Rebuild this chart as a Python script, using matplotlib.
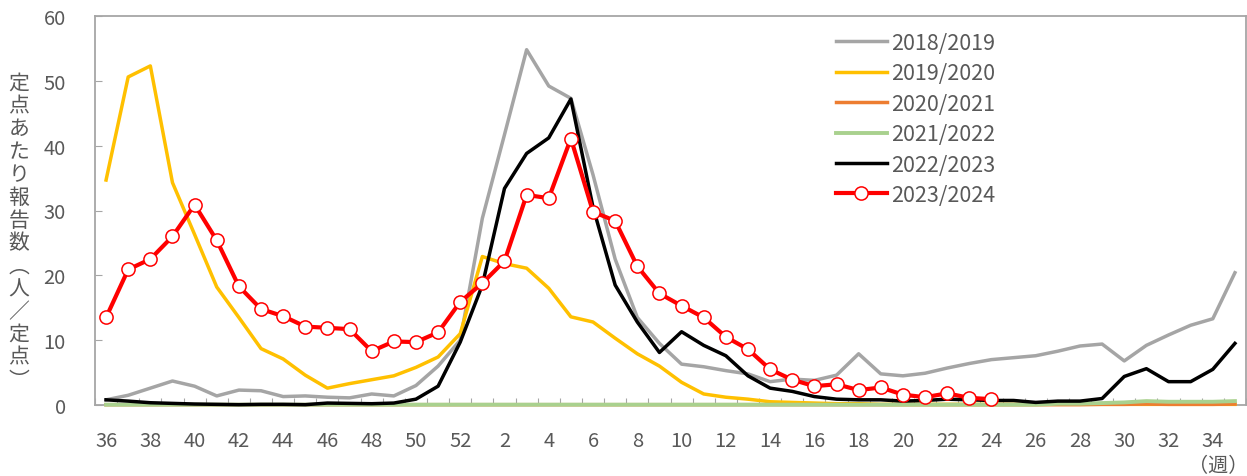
import matplotlib
matplotlib.use('Agg')
import matplotlib.pyplot as plt
import numpy as np

plt.rcParams['font.family'] = ['Noto Sans CJK JP', 'DejaVu Sans']

weeks = list(range(36, 53)) + list(range(1, 36))

s2018 = [0.8, 1.5, 2.6, 3.7, 2.9, 1.4, 2.3, 2.2, 1.3, 1.4, 1.2, 1.1, 1.7, 1.4, 3.0, 6.0, 10.0,
         28.8, 41.7, 54.8, 49.2, 47.3, 35.5, 22.5, 13.5, 9.5, 6.3, 5.9, 5.3, 4.8, 3.6, 4.0, 3.8,
         4.6, 7.9, 4.8, 4.5, 4.9, 5.7, 6.4, 7.0, 7.3, 7.6, 8.3, 9.1, 9.4, 6.8, 9.2, 10.8, 12.3,
         13.3, 20.4]
s2019 = [34.7, 50.6, 52.3, 34.3, 26.3, 18.2, 13.5, 8.7, 7.1, 4.6, 2.6, 3.3, 3.9, 4.5, 5.8, 7.4,
         11.0, 22.9, 21.8, 21.1, 18.0, 13.6, 12.8, 10.3, 7.9, 6.0, 3.5, 1.7, 1.2, 0.9, 0.5, 0.4,
         0.3, 0.2, 0.2, 0.1, 0.1, 0.1, 0.1, 0.1, 0.1, 0.1, 0.1, 0.1, 0.1, 0.1, 0.1, 0.1, 0.1,
         0.1, 0.1, 0.1]
s2020 = [0.05] * 44 + [0.05, 0.1, 0.1, 0.15, 0.1, 0.1, 0.1, 0.15]
s2021 = [0.05] * 43 + [0.2, 0.2, 0.3, 0.4, 0.6, 0.5, 0.5, 0.5, 0.6]
s2022 = [0.8, 0.6, 0.35, 0.25, 0.15, 0.1, 0.05, 0.1, 0.1, 0.05, 0.3, 0.25, 0.2, 0.3, 0.9, 2.9,
         9.7, 18.5, 33.4, 38.8, 41.2, 47.2, 30.5, 18.5, 12.8, 8.1, 11.3, 9.2, 7.6, 4.5, 2.6, 2.1,
         1.3, 0.9, 0.8, 0.8, 0.6, 0.7, 0.9, 0.8, 0.7, 0.7, 0.4, 0.6, 0.6, 1.0, 4.4, 5.6, 3.6,
         3.6, 5.5, 9.5]
s2023 = [13.5, 20.9, 22.5, 26.0, 30.9, 25.4, 18.3, 14.8, 13.7, 12.1, 11.9, 11.7, 8.3, 9.8, 9.7,
         11.2, 15.9, 18.8, 22.2, 32.4, 31.9, 41.1, 29.8, 28.4, 21.4, 17.2, 15.3, 13.5, 10.5, 8.6,
         5.5, 3.9, 2.9, 3.2, 2.3, 2.7, 1.6, 1.2, 1.8, 1.1, 0.9]

labels = ['2018/2019', '2019/2020', '2020/2021', '2021/2022', '2022/2023', '2023/2024']
colors = ['#A5A5A5', '#FFC000', '#ED7D31', '#A9D18E', '#000000', '#FF0000']

W, H = 1247, 477
fig = plt.figure(figsize=(W / 100, H / 100), dpi=100)
ax = fig.add_axes([95 / W, 1 - 406 / H, (1246 - 95) / W, (406 - 17) / H])

x = np.arange(len(weeks))
kw = dict(zorder=3, clip_on=False)
ax.plot(x, s2018, color=colors[0], lw=2.5, label=labels[0], **kw)
ax.plot(x, s2019, color=colors[1], lw=2.5, label=labels[1], **kw)
ax.plot(x, s2020, color=colors[2], lw=2.5, label=labels[2], **kw)
ax.plot(x, s2021, color=colors[3], lw=2.8, label=labels[3], **kw)
ax.plot(x, s2022, color=colors[4], lw=2.5, label=labels[4], **kw)
ax.plot(x[:len(s2023)], s2023, color=colors[5], lw=3.0, marker='o', ms=9.5,
        mfc='white', mec=colors[5], mew=1.1, label=labels[5], **kw)

ax.set_xlim(-0.5, len(weeks) - 0.5)
ax.set_ylim(0, 60)

spc = '#A6A6A6'
for s in ax.spines.values():
    s.set_color(spc)
    s.set_linewidth(1.3)

ax.set_yticks(range(0, 61, 10))
ax.tick_params(axis='y', direction='in', length=5, color=spc, labelsize=14.5,
               labelcolor='#595959', pad=21)

ax.set_xticks(np.arange(-0.5, len(weeks)))
ax.set_xticklabels([])
ax.tick_params(axis='x', which='major', direction='in', length=5, color=spc)
ax.set_xticks(np.arange(0, len(weeks), 2), minor=True)
ax.set_xticklabels([str(weeks[i]) for i in range(0, len(weeks), 2)], minor=True)
ax.tick_params(axis='x', which='minor', length=0, labelsize=14.5, labelcolor='#595959', pad=18)

leg = ax.legend(loc='upper left', bbox_to_anchor=(836 / W, 1 - 33 / H),
                bbox_transform=fig.transFigure, frameon=False, fontsize=15.5,
                handlelength=2.35, handletextpad=0.2, labelspacing=0.39,
                borderaxespad=0, borderpad=0)
for t in leg.get_texts():
    t.set_color('#595959')

ylab = '定点あたり報告数︵人／定点︶'
fig.text(19 / W, 1 - 232 / H, '\n'.join(ylab), ha='center', va='center',
         fontsize=15, linespacing=1.05, color='#595959')
fig.text(1218 / W, 1 - 467 / H, '（週）', ha='center', va='center',
         fontsize=14.5, color='#595959')

fig.savefig('out.png', dpi=100)
